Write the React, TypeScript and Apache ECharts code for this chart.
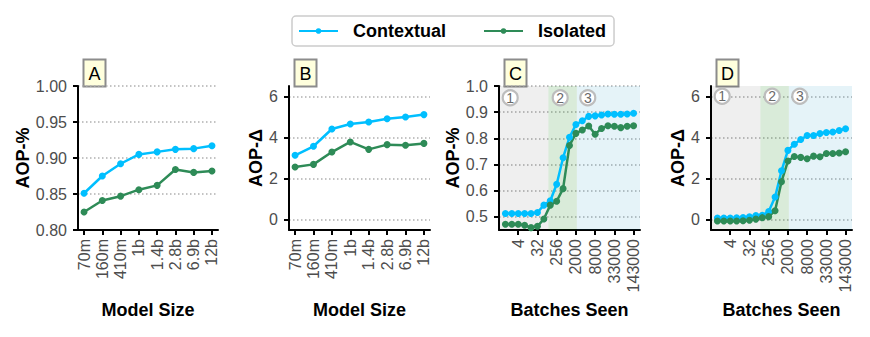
import React, { useEffect, useRef } from 'react';
import * as echarts from 'echarts';

// ---------- data ----------
const modelSizes = ['70m', '160m', '410m', '1b', '1.4b', '2.8b', '6.9b', '12b'];
const aContextual = [0.851, 0.875, 0.892, 0.905, 0.9085, 0.912, 0.913, 0.917];
const aIsolated = [0.825, 0.841, 0.847, 0.856, 0.862, 0.884, 0.88, 0.882];
const bContextual = [3.13, 3.57, 4.41, 4.65, 4.75, 4.91, 4.99, 5.11];
const bIsolated = [2.56, 2.69, 3.29, 3.78, 3.42, 3.65, 3.62, 3.71];

const batchesSeen = ['1', '2', '4', '8', '16', '32', '64', '128', '256', '512', '1000', '2000', '4000', '6000', '8000', '13000', '23000', '33000', '66000', '103000', '143000'];
const batchTickIdx = [2, 5, 8, 11, 14, 17, 20];
const cContextual = [0.513, 0.513, 0.513, 0.513, 0.513, 0.517, 0.545, 0.562, 0.625, 0.726, 0.804, 0.853, 0.867, 0.884, 0.886, 0.889, 0.893, 0.892, 0.892, 0.893, 0.896];
const cIsolated = [0.472, 0.472, 0.472, 0.468, 0.459, 0.464, 0.492, 0.545, 0.56, 0.608, 0.773, 0.819, 0.832, 0.847, 0.816, 0.838, 0.848, 0.846, 0.841, 0.846, 0.848];
const dContextual = [0.08, 0.08, 0.08, 0.09, 0.11, 0.14, 0.2, 0.22, 0.4, 1.1, 2.38, 3.37, 3.67, 3.9, 4.09, 4.09, 4.19, 4.24, 4.26, 4.34, 4.42];
const dIsolated = [-0.06, -0.06, -0.06, -0.06, -0.05, -0.03, 0.03, 0.1, 0.15, 0.44, 1.85, 2.85, 3.07, 3.03, 2.96, 3.09, 3.06, 3.22, 3.22, 3.24, 3.3];

const aTicks = [0.8, 0.85, 0.9, 0.95, 1.0];
const deltaTicks = [0, 2, 4, 6];
const cTicks = [0.5, 0.6, 0.7, 0.8, 0.9, 1.0];

// training phase regions (in batch index units) and their numbered markers
const phaseBreaks = [-1, 6.7, 11.15, 21];
const phaseLabels = ['1', '2', '3'];
const phaseMarkX = [0.75, 8.55, 12.85];
const panelLetters = ['A', 'B', 'C', 'D'];

const FONT = '"Liberation Sans", Arial, Helvetica, sans-serif';
const BLUE = '#00bfff';
const GREEN = '#2e8b57';
const PHASE_COLORS = ['rgba(0,0,0,0.063)', 'rgba(0,120,0,0.15)', 'rgba(0,140,190,0.1)'];

export default function App() {
  const ref = useRef<HTMLDivElement>(null);

  useEffect(() => {
    document.body.style.margin = '0';
    const chart = echarts.init(ref.current!, null, { renderer: 'svg' });

    const grids = [
      { left: 78, top: 86, width: 140, height: 144 },
      { left: 289, top: 86, width: 141, height: 144 },
      { left: 499, top: 86, width: 141, height: 144 },
      { left: 711, top: 86, width: 141, height: 144 },
    ];

    const nameStyle = { fontSize: 18, fontWeight: 'bold', color: '#000', fontFamily: FONT };
    const axisLine = { show: true, onZero: false, lineStyle: { color: '#000', width: 2 } };

    const mkX = (g: number, min: number, max: number, ticks: number[], labels: string[], name: string) => ({
      type: 'value', gridIndex: g, min, max, name, nameLocation: 'middle', nameGap: 71,
      nameTextStyle: nameStyle,
      axisLine,
      axisTick: { show: true, length: 5, lineStyle: { color: '#000', width: 2 }, customValues: ticks },
      axisLabel: {
        show: true, rotate: 90, margin: 9, fontSize: 16, color: '#4d4d4d', fontFamily: FONT,
        customValues: ticks, formatter: (v: number) => labels[Math.round(v)] ?? '',
      },
      splitLine: { show: false },
    });

    const mkY = (g: number, min: number, max: number, ticks: number[], digits: number, name: string, gap: number) => ({
      type: 'value', gridIndex: g, min, max, name, nameLocation: 'middle', nameGap: gap,
      nameTextStyle: nameStyle,
      axisLine,
      axisTick: { show: true, length: 5, lineStyle: { color: '#000', width: 2 }, customValues: ticks },
      axisLabel: {
        show: true, margin: 11, fontSize: 16, color: '#4d4d4d', fontFamily: FONT,
        customValues: ticks, formatter: (v: number) => v.toFixed(digits),
      },
      splitLine: { show: true, lineStyle: { color: '#b0b0b0', width: 1.5, type: [1.5, 2.5] } },
    });

    const idx = (arr: string[]) => arr.map((_, i) => i);
    const pts = (vals: number[]) => vals.map((v, i) => [i, v]);

    const mkLine = (g: number, name: string, vals: number[], color: string) => ({
      type: 'line', name, xAxisIndex: g, yAxisIndex: g, data: pts(vals),
      symbol: 'circle', symbolSize: 7, showSymbol: true,
      itemStyle: { color }, lineStyle: { color, width: 2.5 }, z: 3,
    });

    const mkPhases = (g: number, markY: number) => ({
      type: 'line', xAxisIndex: g, yAxisIndex: g, data: [], silent: true, z: 1,
      markArea: {
        silent: true,
        data: phaseLabels.map((_, i) => [
          { xAxis: phaseBreaks[i], itemStyle: { color: PHASE_COLORS[i] } },
          { xAxis: phaseBreaks[i + 1] },
        ]),
      },
      markPoint: {
        silent: true,
        symbol: 'circle', symbolSize: 15,
        itemStyle: { color: '#ffffff', borderColor: '#bdbdbd', borderWidth: 2.2 },
        label: { show: true, position: 'inside', color: '#6a6a6a', fontSize: 14, fontFamily: FONT, formatter: (p: any) => p.name },
        data: phaseLabels.map((lab, i) => ({ name: lab, coord: [phaseMarkX[i], markY], symbolSize: 15 })),
      },
    });

    const letterBoxes = grids.map((gr, i) => ({
      type: 'group',
      x: gr.left + 5.5,
      y: 59.5,
      children: [
        { type: 'rect', shape: { x: 0, y: 0, width: 22, height: 27 }, style: { fill: '#ffffdd', stroke: '#8c8c8c', lineWidth: 2 } },
        {
          type: 'text', x: 11, y: 14,
          style: { text: panelLetters[i], fontSize: 18, fontFamily: FONT, fill: '#000', align: 'center', verticalAlign: 'middle', textAlign: 'center', textVerticalAlign: 'middle' },
        },
      ],
    }));

    const option: any = {
      animation: false,
      backgroundColor: '#ffffff',
      textStyle: { fontFamily: FONT },
      legend: {
        data: ['Contextual', 'Isolated'],
        left: 292, top: 16,
        itemWidth: 39, itemHeight: 7, itemGap: 37,
        padding: [6, 8, 6, 6],
        borderColor: '#cccccc', borderWidth: 1.5, borderRadius: 4, backgroundColor: '#fff',
        selectedMode: false,
        textStyle: { fontSize: 18, fontWeight: 'bold', color: '#000', fontFamily: FONT, padding: [0, 0, 0, 10] },
      },
      grid: grids,
      xAxis: [
        mkX(0, -0.33, 7.33, idx(modelSizes), modelSizes, 'Model Size'),
        mkX(1, -0.33, 7.33, idx(modelSizes), modelSizes, 'Model Size'),
        mkX(2, -1, 21, batchTickIdx, batchesSeen, 'Batches Seen'),
        mkX(3, -1, 21, batchTickIdx, batchesSeen, 'Batches Seen'),
      ],
      yAxis: [
        mkY(0, 0.8, 1.0, aTicks, 2, 'AOP-%', 41),
        mkY(1, -0.5, 6.5, deltaTicks, 0, 'AOP-Δ', 24),
        mkY(2, 0.45, 1.0, cTicks, 1, 'AOP-%', 32),
        mkY(3, -0.5, 6.5, deltaTicks, 0, 'AOP-Δ', 24),
      ],
      series: [
        mkPhases(2, 0.955),
        mkPhases(3, 6.0),
        mkLine(0, 'Contextual', aContextual, BLUE),
        mkLine(0, 'Isolated', aIsolated, GREEN),
        mkLine(1, 'Contextual', bContextual, BLUE),
        mkLine(1, 'Isolated', bIsolated, GREEN),
        mkLine(2, 'Contextual', cContextual, BLUE),
        mkLine(2, 'Isolated', cIsolated, GREEN),
        mkLine(3, 'Contextual', dContextual, BLUE),
        mkLine(3, 'Isolated', dIsolated, GREEN),
      ],
      graphic: letterBoxes,
    };

    chart.setOption(option);
    return () => chart.dispose();
  }, []);

  return <div ref={ref} style={{ width: 870, height: 337 }} />;
}
